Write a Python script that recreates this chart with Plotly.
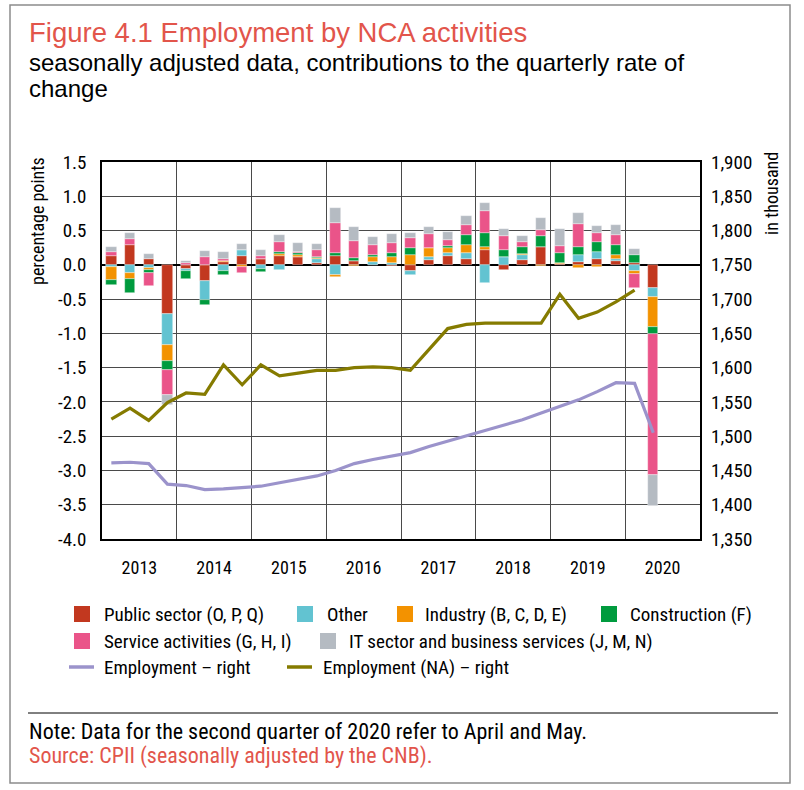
import plotly.graph_objects as go

# ---------------- data ----------------
years = [2013, 2014, 2015, 2016, 2017, 2018, 2019, 2020]
quarters = [(y, q) for y in years for q in (1, 2, 3, 4)][:30]

public_sector = [0.136, 0.29, 0.078, -0.724,
                 -0.068, -0.243, 0.039, 0.136,
                 0.078, 0.136, 0.107, 0.024,
                 0.136, 0.053, 0.0, -0.02,
                 -0.097, 0.068, 0.136, 0.092,
                 0.209, -0.078, 0.068, 0.257,
                 0.01, 0.039, 0.083, 0.063,
                 0.029, -0.34]
other = [-0.03, -0.117, -0.053, -0.447,
         -0.025, -0.277, -0.092, 0.083,
         -0.068, -0.078, 0.0, 0.063,
         -0.155, 0.0, 0.039, 0.029,
         -0.049, 0.053, 0.039, 0.078,
         -0.272, 0.107, 0.073, 0.0,
         0.0, 0.107, 0.102, 0.024,
         -0.087, -0.131]
industry = [-0.19, -0.097, -0.02, -0.233,
            0.0, 0.0, 0.01, -0.03,
            0.0, 0.029, 0.039, 0.01,
            -0.029, -0.02, 0.078, 0.092,
            0.15, 0.126, 0.073, 0.126,
            0.049, 0.0, 0.024, -0.01,
            0.02, -0.049, -0.03, 0.058,
            -0.053, -0.437]
construction = [-0.073, -0.194, -0.039, -0.126,
                -0.12, -0.063, -0.053, 0.0,
                -0.039, 0.015, 0.024, 0.015,
                0.034, 0.044, 0.029, 0.049,
                0.092, 0.0, 0.029, 0.146,
                0.209, 0.102, 0.102, 0.16,
                0.141, 0.112, 0.141, 0.146,
                0.121, -0.097]
services = [0.044, 0.083, -0.19, -0.374,
            0.02, 0.12, 0.034, -0.087,
            0.044, 0.15, 0.024, 0.097,
            0.437, 0.257, 0.136, 0.146,
            0.146, 0.209, 0.078, 0.136,
            0.316, 0.209, 0.063, 0.097,
            0.097, 0.34, 0.136, 0.141,
            -0.194, -2.065]
it_business = [0.078, 0.092, 0.073, -0.146,
               0.035, 0.083, 0.097, 0.083,
               0.097, 0.112, 0.131, 0.097,
               0.223, 0.194, 0.121, 0.136,
               0.078, 0.102, 0.121, 0.141,
               0.117, 0.107, 0.092, 0.17,
               0.248, 0.155, 0.102, 0.155,
               0.087, -0.45]

employment = [1461, 1462, 1460, 1430,
              1428, 1422, 1423, 1425,
              1427, 1432, 1437, 1442,
              1450, 1460, 1466, 1471,
              1476, 1485, 1493, 1501,
              1509, 1517, 1524, 1534,
              1543, 1553, 1565, 1578,
              1577, 1505]
employment_na = [1525, 1541, 1523, 1549,
                 1563, 1561, 1604, 1575,
                 1604, 1588, 1592, 1596,
                 1596, 1600, 1601, 1600,
                 1596, 1626, 1657, 1663,
                 1665, 1665, 1665, 1665,
                 1707, 1672, 1681, 1696,
                 1713, None]

bar_names = ["Public sector (O, P, Q)", "Other", "Industry (B, C, D, E)",
             "Construction (F)", "Service activities (G, H, I)",
             "IT sector and business services (J, M, N)"]
line_names = ["Employment – right", "Employment (NA) – right"]

left_ticks = [1.5, 1.0, 0.5, 0.0, -0.5, -1.0, -1.5, -2.0, -2.5, -3.0, -3.5, -4.0]
left_ticktext = ["1.5", "1.0", "0.5", "0.0", "-0.5", "-1.0", "-1.5", "-2.0",
                 "-2.5", "-3.0", "-3.5", "-4.0"]
right_ticks = [1900, 1850, 1800, 1750, 1700, 1650, 1600, 1550, 1500, 1450, 1400, 1350]
right_ticktext = ["1,900", "1,850", "1,800", "1,750", "1,700", "1,650", "1,600",
                  "1,550", "1,500", "1,450", "1,400", "1,350"]
year_labels = [str(y) for y in years]

# ---------------- styling ----------------
bar_colors = ["#C2381F", "#62C3D1", "#F39200", "#009B3E", "#EA5489", "#B5BBC2"]
line_colors = ["#9B93CB", "#857B00"]
coral = "#E2554B"
NARROW = "Roboto Condensed, Liberation Sans Narrow, Arial Narrow, Liberation Sans, sans-serif"
REG = "Liberation Sans, Arial, Helvetica, sans-serif"

W, H = 804, 790
L, R, T, B = 102, 700, 162, 539


def px(x):
    return (x - L) / (R - L)


def py(y):
    return (B - y) / (B - T)


xpos = [y + (q - 0.5) / 4 for (y, q) in quarters]

fig = go.Figure()
series = [public_sector, other, industry, construction, services, it_business]
for name, vals, col in zip(bar_names, series, bar_colors):
    fig.add_trace(go.Bar(x=xpos, y=vals, name=name, width=0.138,
                         marker=dict(color=col, line=dict(color="rgba(255,255,255,0.6)", width=0.6)),
                         showlegend=False, yaxis="y"))

for name, vals, col in zip(line_names, [employment, employment_na], line_colors):
    fig.add_trace(go.Scatter(x=xpos, y=vals, name=name, mode="lines",
                             line=dict(color=col, width=3.2), yaxis="y2",
                             showlegend=False, connectgaps=False))

grid_col = "#4a4a4a"
fig.update_layout(
    width=W, height=H,
    margin=dict(l=L, r=W - R, t=T, b=H - B),
    paper_bgcolor="white", plot_bgcolor="white",
    barmode="relative", bargap=0,
    font=dict(family=NARROW, size=18, color="black"),
    xaxis=dict(range=[2013, 2021], tickmode="array",
               tickvals=[y + 0.5 for y in years], ticktext=year_labels,
               showgrid=False, zeroline=False, ticks="", ticklabelstandoff=12,
               showline=True, linecolor="black", linewidth=1.5, mirror=True,
               minor=dict(tickmode="array", tickvals=list(range(2013, 2022)),
                          showgrid=True, gridcolor=grid_col, gridwidth=1.2, ticks=""),
               tickfont=dict(family=NARROW, size=18)),
    yaxis=dict(range=[-4.0, 1.5], tickmode="array", tickvals=left_ticks,
               ticktext=left_ticktext, showgrid=True, gridcolor=grid_col, gridwidth=1.2,
               zeroline=True, zerolinecolor="black", zerolinewidth=1.5,
               ticks="", ticklabelstandoff=10,
               showline=True, linecolor="black", linewidth=1.5, mirror=True,
               tickfont=dict(family=NARROW, size=19)),
    yaxis2=dict(range=[1350, 1900], overlaying="y", side="right",
                tickmode="array", tickvals=right_ticks, ticktext=right_ticktext,
                showgrid=False, zeroline=False, ticks="", ticklabelstandoff=10,
                tickfont=dict(family=NARROW, size=19)),
)

ann = []
shapes = []


def note(text, x, y, size, color="black", family=NARROW, xanchor="left", angle=0):
    ann.append(dict(text=text, x=px(x), y=py(y), xref="paper", yref="paper",
                    xanchor=xanchor, yanchor="middle", showarrow=False, textangle=angle,
                    font=dict(family=family, size=size, color=color)))


# titles
note("Figure 4.1 Employment by NCA activities", 27, 33, 27.5, coral, REG)
note("seasonally adjusted data, contributions to the quarterly rate of", 27, 62, 24, "black", REG)
note("change", 27, 89, 24, "black", REG)

# axis titles
note("percentage points", 38, 221, 18, xanchor="center", angle=-90)
note("in thousand", 771, 194, 18, xanchor="center", angle=-90)

# legend (manual)
sq = 16
leg_bars = [(0, 74, 102, 614), (1, 297, 325, 614), (2, 397, 423, 614), (3, 601, 628, 614),
            (4, 74, 102, 641), (5, 320, 347, 641)]
for idx, sx, tx, cy in leg_bars:
    shapes.append(dict(type="rect", xref="paper", yref="paper",
                       x0=px(sx), x1=px(sx + sq), y0=py(cy - sq / 2), y1=py(cy + sq / 2),
                       fillcolor=bar_colors[idx], line=dict(width=0)))
    note(bar_names[idx], tx, cy, 19)
leg_lines = [(0, 69, 94, 102, 667), (1, 287, 312, 321, 667)]
for idx, x0, x1, tx, cy in leg_lines:
    shapes.append(dict(type="line", xref="paper", yref="paper",
                       x0=px(x0), x1=px(x1), y0=py(cy), y1=py(cy),
                       line=dict(color=line_colors[idx], width=3.5)))
    note(line_names[idx], tx, cy, 19)

# separator, note, source
shapes.append(dict(type="line", xref="paper", yref="paper", x0=px(28), x1=px(778),
                   y0=py(713), y1=py(713), line=dict(color="black", width=1)))
note("Note: Data for the second quarter of 2020 refer to April and May.", 27, 731, 22)
note("Source: CPII (seasonally adjusted by the CNB).", 27, 756, 22, coral)

# outer frame
shapes.append(dict(type="rect", xref="paper", yref="paper", x0=px(10), x1=px(790),
                   y0=py(5), y1=py(783), line=dict(color="#8c8c8c", width=1.5),
                   fillcolor="rgba(0,0,0,0)"))

fig.update_layout(annotations=ann, shapes=shapes)
fig.write_html("out.html", config={"displayModeBar": False},
               post_script="document.body.style.margin='0px';document.body.style.padding='0px';")
